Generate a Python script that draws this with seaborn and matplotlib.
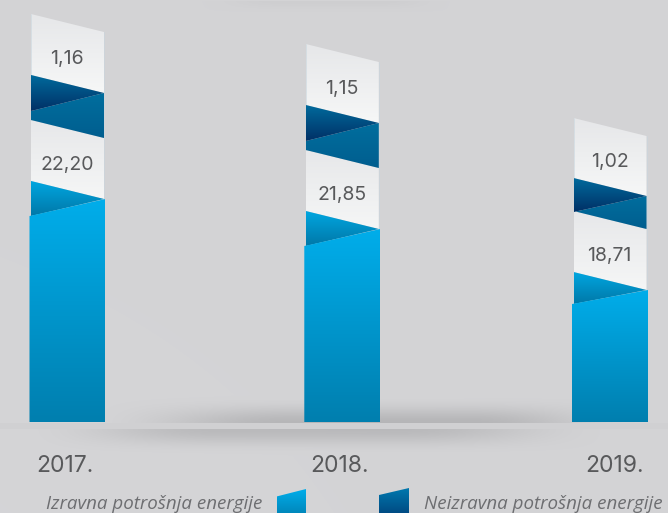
import numpy as np
import pandas as pd
import matplotlib
matplotlib.use("Agg")
import matplotlib.pyplot as plt
from matplotlib.colors import LinearSegmentedColormap
from matplotlib.patches import Polygon
import seaborn as sns

# ---------- data ----------
years = ["2017.", "2018.", "2019."]
direct_labels = ["22,20", "21,85", "18,71"]
indirect_labels = ["1,16", "1,15", "1,02"]
legend_direct = "Izravna potrošnja energije"
legend_indirect = "Neizravna potrošnja energije"
# drawn heights of the stacked segments (picture units, measured on the right edge)
direct_solid = [223, 193, 132]
direct_panel = [61, 61, 61]
indirect_band = [45, 45, 33]
indirect_panel = [61, 61, 60]

# ---------- layout / style ----------
W, H, BASE = 668, 513, 422
bar_centres = [67.5, 342.3, 610]
year_centres = [65, 339.5, 614.5]
SOLID_W, PANEL_W = 76, 73
SLANT = 18
solid_drop = [17, 17, 14]
fold_rise = [18, 18, 16]
TXT = "#58595B"
FONT = "Inter"
LEG_FONT = "Open Sans"

sns.set_theme(style="white")
fig = plt.figure(figsize=(W / 100, H / 100), dpi=100)
ax = fig.add_axes([0, 0, 1, 1])


def ysmooth(v, a, b):
    t = np.clip((v - a) / (b - a), 0, 1)
    return t * t * (3 - 2 * t)


# background with floor shadow
px, py = np.meshgrid(np.arange(W), np.arange(H))
bg = 211.0 + 2.0 * (1 - px / W) * (py / H)
env_a = ysmooth(px, 85, 290) * (1 - ysmooth(px, 470, 640))
env_b = ysmooth(px, 20, 220) * (1 - ysmooth(px, 400, 610))
above = ysmooth(py, 394, 423) ** 1.4 * (py < 423)
below = (1 - ysmooth(py, 429, 456)) ** 1.4 * (py >= 429)
bg -= 30 * env_a * above
bg -= 26 * env_b * below
bg -= 5 * ysmooth(py, 0, 1) * (1 - ysmooth(py, 0, 12)) * ysmooth(px, 200, 280) * (1 - ysmooth(px, 380, 450))
bg[(py >= 423) & (py < 429)] = 208
r = np.clip(bg, 0, 255) / 255
ax.imshow(np.dstack([r, r, np.clip(r + 0.008, 0, 1)]), extent=(0, W, BASE - H, BASE),
          origin="upper", aspect="auto", zorder=0, interpolation="bilinear")


def stack_bars(heights, bottoms, width_px, color):
    """One stacked layer through seaborn; returns its new rectangles."""
    before = len(ax.patches)
    df = pd.DataFrame({"x": bar_centres, "h": heights})
    spacing = min(np.diff(bar_centres))
    sns.barplot(data=df, x="x", y="h", bottom=bottoms, native_scale=True,
                width=width_px / spacing, color=color, saturation=1, ax=ax,
                errorbar=None, zorder=1, linewidth=0)
    return ax.patches[before:]


def grad(poly_pts, top, bottom, z):
    pts = np.array(poly_pts, float)
    cmap = LinearSegmentedColormap.from_list("g", [bottom, top])
    poly = Polygon(pts, closed=True, transform=ax.transData, fc="none", ec="none")
    ax.add_patch(poly)
    im = ax.imshow(np.linspace(1, 0, 64)[:, None], cmap=cmap, vmin=0, vmax=1, aspect="auto",
                   extent=(pts[:, 0].min(), pts[:, 0].max(), pts[:, 1].min(), pts[:, 1].max()),
                   zorder=z, interpolation="bilinear")
    im.set_clip_path(poly)


h1 = np.array(direct_solid, float)
h2 = h1 + direct_panel
h3 = h2 + indirect_band
h4 = h3 + indirect_panel

solid_bars = stack_bars(h1, np.zeros(3), SOLID_W, "#0096CC")
panel_bars = stack_bars(np.array(direct_panel), h1, PANEL_W, "#EEEFF0")
band_bars = stack_bars(np.array(indirect_band), h2, PANEL_W, "#00648F")
top_bars = stack_bars(np.array(indirect_panel), h3, PANEL_W, "#EEEFF0")

for i in range(3):
    s, p = solid_bars[i], panel_bars[i]
    sl, sr = s.get_x(), s.get_x() + s.get_width()
    pl, pr = p.get_x(), p.get_x() + p.get_width()
    for b in (s, p, band_bars[i], top_bars[i]):
        b.set_visible(False)

    # indirect: label panel
    grad([(pl, h3[i] + SLANT), (pr, h3[i]), (pr, h4[i]), (pl, h4[i] + SLANT)], "#E6E7E9", "#F6F7F7", 2)
    # direct: label panel
    grad([(pl, h1[i] + SLANT), (pr, h1[i]), (pr, h2[i]), (pl, h2[i] + SLANT)], "#E7E8EA", "#F5F6F6", 2)
    # indirect: dark fold
    fold = h3[i] - fold_rise[i]
    grad([(pl, fold), (pr, h3[i]), (pr, h2[i]), (pl, h2[i] + SLANT)], "#006E9E", "#005E8F", 3)
    grad([(pl, h3[i] + SLANT), (pr, h3[i]), (pl, fold)], "#006A9C", "#003066", 4)
    # direct: blue fold
    grad([(pl, h1[i] + SLANT), (pr, h1[i]), (pl, h1[i] - solid_drop[i])], "#00A6E0", "#0078A8", 3)
    # direct: front
    grad([(sl, 0), (sr, 0), (sr, h1[i]), (sl, h1[i] - solid_drop[i])], "#00ADEA", "#007FAF", 5)

    # pale side edges of the panels
    ax.plot([pl, pl], [h2[i] + SLANT, h4[i] + SLANT], color="#C9D6DE", lw=0.6, zorder=2, alpha=0.7)
    ax.plot([pr, pr], [h1[i], h4[i]], color="#C9D6DE", lw=0.6, zorder=2, alpha=0.7)

    ax.text(bar_centres[i] - 0.5, (h1[i] + h2[i]) / 2 + 3.5, direct_labels[i], ha="center", va="center",
            color=TXT, fontsize=14, family=FONT, zorder=6)
    ax.text(bar_centres[i] - 0.5, (h3[i] + h4[i]) / 2 + 3.5, indirect_labels[i], ha="center", va="center",
            color=TXT, fontsize=14, family=FONT, zorder=6)
    ax.text(year_centres[i], BASE - 466, years[i], ha="center", va="center",
            color=TXT, fontsize=16.5, family=FONT, zorder=6)

# legend
ax.text(262, BASE - 504, legend_direct, ha="right", va="center", color="#6D6E71",
        fontsize=13.5, style="italic", family=LEG_FONT)
ax.text(424, BASE - 504, legend_indirect, ha="left", va="center", color="#6D6E71",
        fontsize=13.5, style="italic", family=LEG_FONT)
grad([(276.5, BASE - 513), (306, BASE - 513), (306, BASE - 489), (276.5, BASE - 496.5)], "#00ADEA", "#0088BC", 5)
grad([(379, BASE - 513), (409, BASE - 513), (409, BASE - 488), (379, BASE - 495)], "#0078AE", "#004C84", 5)

ax.set_xlim(0, W)
ax.set_ylim(BASE - H, BASE)
ax.axis("off")
fig.savefig("out.png", dpi=100)
